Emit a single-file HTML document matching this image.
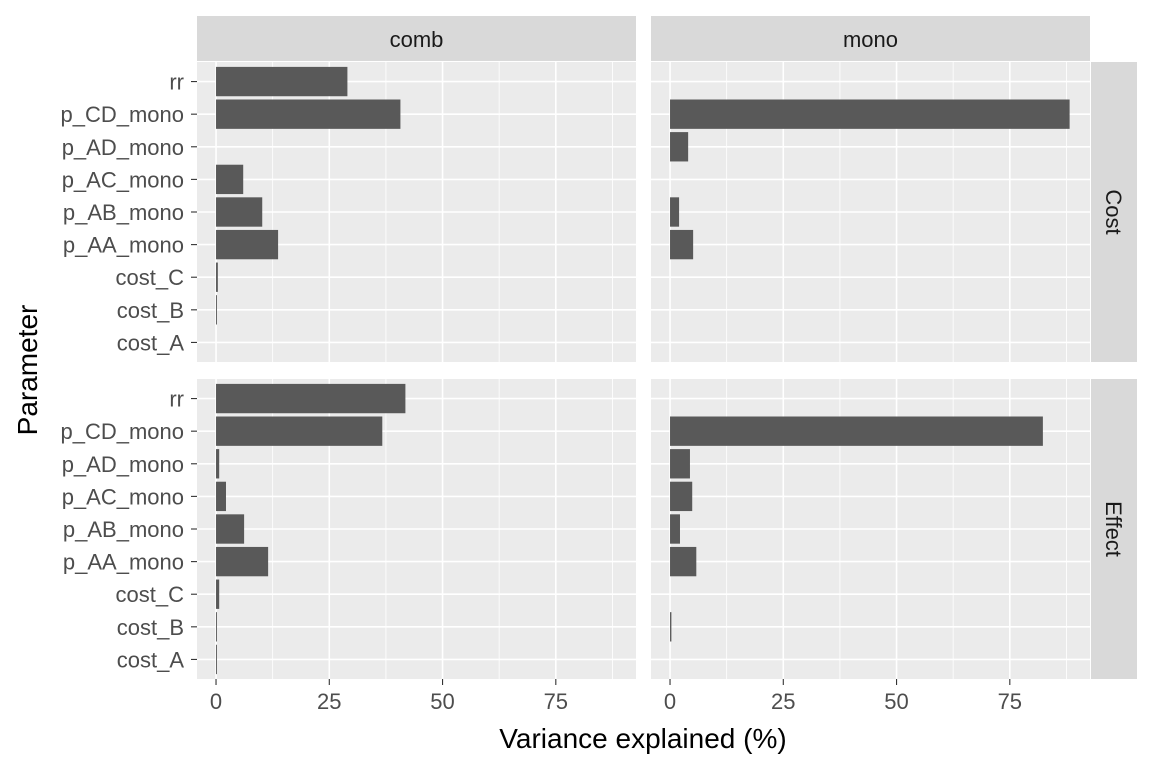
<!DOCTYPE html>
<html><head><meta charset="utf-8"><style>
body{margin:0;background:#fff;font-family:"Liberation Sans",sans-serif;}
svg text{font-family:"Liberation Sans",sans-serif;}
</style></head><body>
<svg id="c" width="1152" height="768" xmlns="http://www.w3.org/2000/svg"></svg>
<script>
const categories=["cost_A","cost_B","cost_C","p_AA_mono","p_AB_mono","p_AC_mono","p_AD_mono","p_CD_mono","rr"];
const costComb=[0,0.2,0.4,13.7,10.2,6,0,40.7,29];
const costMono=[0,0,0,5.1,2,0,4,88.2,0];
const effectComb=[0.2,0.2,0.7,11.5,6.2,2.2,0.7,36.7,41.8];
const effectMono=[0,0.3,0,5.8,2.2,4.9,4.4,82.3,0];
const xTicks=[0,25,50,75];
const cols=["comb","mono"];
const rows=["Cost","Effect"];
const data=[[costComb,costMono],[effectComb,effectMono]];

const NS="http://www.w3.org/2000/svg";
const svg=document.getElementById('c');
function mk(t,a,p){const e=document.createElementNS(NS,t);for(const k in a)e.setAttribute(k,a[k]);(p||svg).appendChild(e);return e;}
const panX=[197,651],panW=439,panY=[62,379],panH=300;
const xmin=-4.2,xmax=92.7;
function xs(c,v){return panX[c]+(v-xmin)/(xmax-xmin)*panW;}
const step=panH/(categories.length+0.2);
function ys(r,i){return panY[r]+panH-step*(0.6+i);}

for(let c=0;c<2;c++){
  const s=mk('rect',{x:panX[c],y:16,width:panW,height:45,fill:'#d9d9d9'});
  
  const t=mk('text',{x:panX[c]+panW/2,y:47,'text-anchor':'middle','font-size':'22',fill:'#1a1a1a'});t.textContent=cols[c];
  
}
for(let r=0;r<2;r++){
  const s=mk('rect',{x:1091,y:panY[r],width:46,height:panH,fill:'#d9d9d9'});
  
  const cy=panY[r]+panH/2;
  const t=mk('text',{x:1114,y:cy,'text-anchor':'middle','font-size':'22',fill:'#1a1a1a',transform:`rotate(90 1114 ${cy})`,dy:'8'});t.textContent=rows[r];
  
}
for(let r=0;r<2;r++)for(let c=0;c<2;c++){
  const g=mk('g',{});
  mk('rect',{x:panX[c],y:panY[r],width:panW,height:panH,fill:'#ebebeb'},g);
  for(let i=0;i<xTicks.length;i++){const m=xTicks[i]+12.5;mk('line',{x1:xs(c,m),x2:xs(c,m),y1:panY[r],y2:panY[r]+panH,stroke:'#fff','stroke-width':0.8},g);}
  for(const v of xTicks)mk('line',{x1:xs(c,v),x2:xs(c,v),y1:panY[r],y2:panY[r]+panH,stroke:'#fff','stroke-width':1.6},g);
  categories.forEach((k,i)=>mk('line',{x1:panX[c],x2:panX[c]+panW,y1:ys(r,i),y2:ys(r,i),stroke:'#fff','stroke-width':1.6},g));
  data[r][c].forEach((v,i)=>{
    const b=mk('rect',{x:xs(c,0),y:ys(r,i)-step*0.45,width:Math.max(0,xs(c,v)-xs(c,0)),height:step*0.9,fill:'#595959'},g);
    
  });
}
for(let r=0;r<2;r++)categories.forEach((k,i)=>{
  mk('line',{x1:191,x2:197,y1:ys(r,i),y2:ys(r,i),stroke:'#333','stroke-width':1.1});
  const t=mk('text',{x:184,y:ys(r,i)+8,'text-anchor':'end','font-size':'22',fill:'#4d4d4d'});t.textContent=k;
  
});
for(let c=0;c<2;c++)xTicks.forEach(v=>{
  mk('line',{x1:xs(c,v),x2:xs(c,v),y1:679,y2:685,stroke:'#333','stroke-width':1.1});
  const t=mk('text',{x:xs(c,v),y:709,'text-anchor':'middle','font-size':'22',fill:'#4d4d4d'});t.textContent=v;
  
});
let t=mk('text',{x:643,y:748,'text-anchor':'middle','font-size':'28',fill:'#000'});t.textContent='Variance explained (%)';

t=mk('text',{x:37,y:370,'text-anchor':'middle','font-size':'28',fill:'#000',transform:'rotate(-90 37 370)'});t.textContent='Parameter';

</script>
</body></html>
